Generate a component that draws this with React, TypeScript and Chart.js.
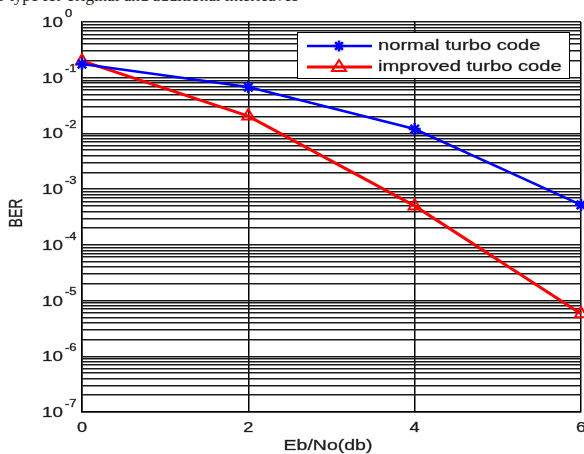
import React, { useEffect, useRef } from 'react';
import { Chart, registerables } from 'chart.js';
Chart.register(...registerables);

const ebNo = [0, 2, 4, 6];
const normalTurbo = [0.176, 0.068, 0.012, 5.2e-4];
const improvedTurbo = [0.2, 0.0205, 5.0e-4, 5.8e-6];
const xTicks = [0, 2, 4, 6];
const yExponents = [0, -1, -2, -3, -4, -5, -6, -7];
const seriesNames = ['normal turbo code', 'improved turbo code'];
const xTitle = 'Eb/No(db)';
const yTitle = 'BER';
const captionText = 'r type for original and additional interleaves';

const FONT = "'Liberation Sans', Arial, sans-serif";
const SX = 1.3;

function minorValues(): number[] {
  const out: number[] = [];
  const minE = Math.min(...yExponents);
  const maxE = Math.max(...yExponents);
  for (let e = minE; e < maxE; e++) {
    for (let m = 1; m <= 9; m++) out.push(m * Math.pow(10, e));
  }
  out.push(Math.pow(10, maxE));
  return out;
}

function drawText(ctx: CanvasRenderingContext2D, text: string, x: number, y: number, size: number, align: CanvasTextAlign, baseline: CanvasTextBaseline, rot = 0) {
  ctx.save();
  ctx.translate(x, y);
  ctx.scale(SX, 1);
  if (rot) ctx.rotate(rot);
  ctx.font = `${size}px ${FONT}`;
  ctx.textAlign = align;
  ctx.textBaseline = baseline;
  ctx.fillStyle = '#1c1c1c';
  ctx.strokeStyle = 'rgba(28,28,28,0.6)';
  ctx.lineWidth = 0.5;
  ctx.fillText(text, 0, 0);
  ctx.strokeText(text, 0, 0);
  ctx.restore();
}

const decorPlugin = {
  id: 'decor',
  afterDraw(chart: any) {
    const ctx: CanvasRenderingContext2D = chart.ctx;
    const xs = chart.scales.x;
    const ys = chart.scales.y;
    yExponents.forEach((e) => {
      const y = ys.getPixelForValue(Math.pow(10, e));
      drawText(ctx, '10', 63, y + 1, 14.5, 'right', 'middle');
      drawText(ctx, String(e), 65, y - 8, 10, 'left', 'middle');
    });
    xTicks.forEach((v) => {
      const x = xs.getPixelForValue(v);
      drawText(ctx, String(v), x, 428, 14, 'center', 'middle');
    });
    drawText(ctx, xTitle, 328, 446, 15, 'center', 'middle');
    drawText(ctx, yTitle, 17, 213, 14, 'center', 'middle', -Math.PI / 2);
    ctx.save();
    ctx.fillStyle = '#fff';
    ctx.strokeStyle = '#000';
    ctx.lineWidth = 1;
    ctx.fillRect(297, 32, 272, 46);
    ctx.strokeRect(297.5, 32.5, 272, 46);
    ctx.restore();
    const rows = [
      { y: 46, color: '#0000ff', kind: 'star' },
      { y: 67, color: '#ff0000', kind: 'tri' },
    ];
    rows.forEach((r, i) => {
      ctx.save();
      ctx.strokeStyle = r.color;
      ctx.lineWidth = i === 0 ? 2.5 : 3;
      ctx.beginPath();
      ctx.moveTo(307, r.y);
      ctx.lineTo(372, r.y);
      ctx.stroke();
      const cx = 339;
      if (r.kind === 'star') {
        ctx.lineWidth = 2.5;
        const s = 5.5;
        ctx.beginPath();
        ctx.moveTo(cx - s, r.y); ctx.lineTo(cx + s, r.y);
        ctx.moveTo(cx, r.y - s); ctx.lineTo(cx, r.y + s);
        ctx.moveTo(cx - s * 0.7, r.y - s * 0.7); ctx.lineTo(cx + s * 0.7, r.y + s * 0.7);
        ctx.moveTo(cx - s * 0.7, r.y + s * 0.7); ctx.lineTo(cx + s * 0.7, r.y - s * 0.7);
        ctx.stroke();
      } else {
        ctx.lineWidth = 2;
        ctx.beginPath();
        ctx.moveTo(cx, r.y - 7);
        ctx.lineTo(cx + 7, r.y + 4);
        ctx.lineTo(cx - 7, r.y + 4);
        ctx.closePath();
        ctx.stroke();
      }
      ctx.restore();
      drawText(ctx, seriesNames[i], 378, r.y, 15.5, 'left', 'middle');
    });
  },
};

export default function App() {
  const ref = useRef<HTMLCanvasElement | null>(null);
  useEffect(() => {
    if (!ref.current) return;
    const minors = minorValues();
    const chart = new Chart(ref.current, {
      type: 'line',
      data: {
        datasets: [
          {
            label: seriesNames[0],
            data: ebNo.map((x, i) => ({ x, y: normalTurbo[i] })),
            borderColor: '#0000ff',
            backgroundColor: '#0000ff',
            borderWidth: 2.5,
            pointStyle: 'star',
            pointRadius: 6,
            pointBorderWidth: 2.5,
            clip: false,
          } as any,
          {
            label: seriesNames[1],
            data: ebNo.map((x, i) => ({ x, y: improvedTurbo[i] })),
            borderColor: '#ff0000',
            backgroundColor: 'rgba(255,255,255,0)',
            borderWidth: 3,
            pointStyle: 'triangle',
            pointRadius: 7,
            pointBorderWidth: 2,
            clip: false,
          } as any,
        ],
      },
      options: {
        responsive: false,
        animation: false,
        devicePixelRatio: 1,
        layout: { autoPadding: false, padding: { left: 82, right: 3, top: 22, bottom: 42 } },
        plugins: { legend: { display: false }, tooltip: { enabled: false } },
        scales: {
          x: {
            type: 'linear',
            min: 0,
            max: 6,
            afterBuildTicks: (s: any) => { s.ticks = xTicks.map((v) => ({ value: v })); },
            afterFit: (s: any) => { s.height = 0; },
            ticks: { display: false },
            grid: { color: '#000', lineWidth: 1.5, drawTicks: false },
            border: { display: true, color: '#000', width: 1.5 },
          },
          y: {
            type: 'logarithmic',
            min: Math.pow(10, Math.min(...yExponents)),
            max: Math.pow(10, Math.max(...yExponents)),
            afterBuildTicks: (s: any) => { s.ticks = minors.map((v) => ({ value: v })); },
            afterFit: (s: any) => { s.width = 0; },
            ticks: { display: false },
            grid: { color: '#1a1a1a', lineWidth: 1.5, drawTicks: false },
            border: { display: true, color: '#000', width: 1.5 },
          },
        },
      } as any,
      plugins: [decorPlugin],
    });
    return () => chart.destroy();
  }, []);
  return (
    <div style={{ position: 'fixed', left: 0, top: 0, width: 584, height: 454, background: '#fff', overflow: 'hidden' }}>
      <div style={{ position: 'absolute', left: -1, top: -14, fontFamily: "'Liberation Serif', 'Times New Roman', serif", fontSize: 17, lineHeight: '20px', color: '#222', whiteSpace: 'nowrap' }}>
        {captionText}
      </div>
      <canvas ref={ref} width={584} height={454} style={{ position: 'absolute', left: 0, top: 0 }} />
    </div>
  );
}
